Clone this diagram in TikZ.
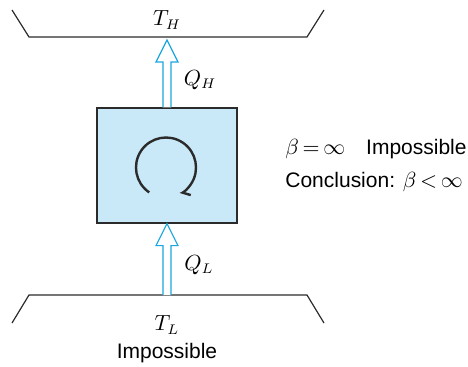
\documentclass[tikz,border=0pt]{standalone}
\usepackage{fontspec}
\setmainfont{Liberation Sans}
\usetikzlibrary{arrows.meta,positioning,calc}
\definecolor{heatblue}{HTML}{1AA7E0}
\definecolor{boxfill}{HTML}{C9E9F8}
\definecolor{inkgray}{HTML}{2B2B2B}

% hollow heat arrow from #1 (tail) to #2 (tip)
\newcommand{\heatarrow}[2]{%
  \draw[heat] ($(#1)+(-4,0)$) -- ($(#2)+(-4,22)$) -- ($(#2)+(-11,22)$) -- (#2)
    -- ($(#2)+(11,22)$) -- ($(#2)+(4,22)$) -- ($(#1)+(4,0)$);}

\begin{document}
\begin{tikzpicture}[
  x=0.5pt, y=-0.5pt,
  font=\fontsize{10.5}{16.5}\selectfont,
  reservoir/.style={draw=inkgray, line width=0.6pt},
  heat/.style={draw=heatblue, line width=0.6pt, fill=white},
  engine/.style={draw=inkgray, fill=boxfill, line width=0.6pt, minimum width=70pt, minimum height=57.5pt},
  lbl/.style={inner sep=1pt}]
\useasboundingbox (0,0) rectangle (468,366);
% reservoirs
\draw[reservoir] (12,10) -- (29,37) coordinate (hotL) -- (307,37) coordinate (hotR) -- (324,10);
\draw[reservoir] (12,323) -- (29,295) coordinate (coldL) -- (307,295) coordinate (coldR) -- (324,323);
\coordinate (hottip) at (167,40);
\coordinate (cold) at (167,295);
\node[lbl] (TH) at (167,20) {$T_H$};
\node[lbl] (TL) at (167,325) {$T_L$};
\node[lbl] (imp) at (167,353) {Impossible};
% device
\node[engine] (dev) at (167,165.5) {};
\heatarrow{dev.north}{hottip}
\heatarrow{cold}{dev.south}
\node[lbl] (QH) at (200,80) {$Q_H$};
\node[lbl] (QL) at (199,265) {$Q_L$};
\draw[line width=1.2pt, inkgray, -{Straight Barb[length=3pt, width=6pt, left]}]
  ($(dev.center)+(-1,2)$) ++(124:30) arc[start angle=124, end angle=422, radius=30];
% statement
\node[lbl, anchor=west, align=left] (note) at (283,166)
  {\thickmuskip=3mu\relax$\beta=\infty$\quad Impossible\\
   \thickmuskip=3mu\relax Conclusion: $\beta<\infty$};
\end{tikzpicture}
\end{document}
